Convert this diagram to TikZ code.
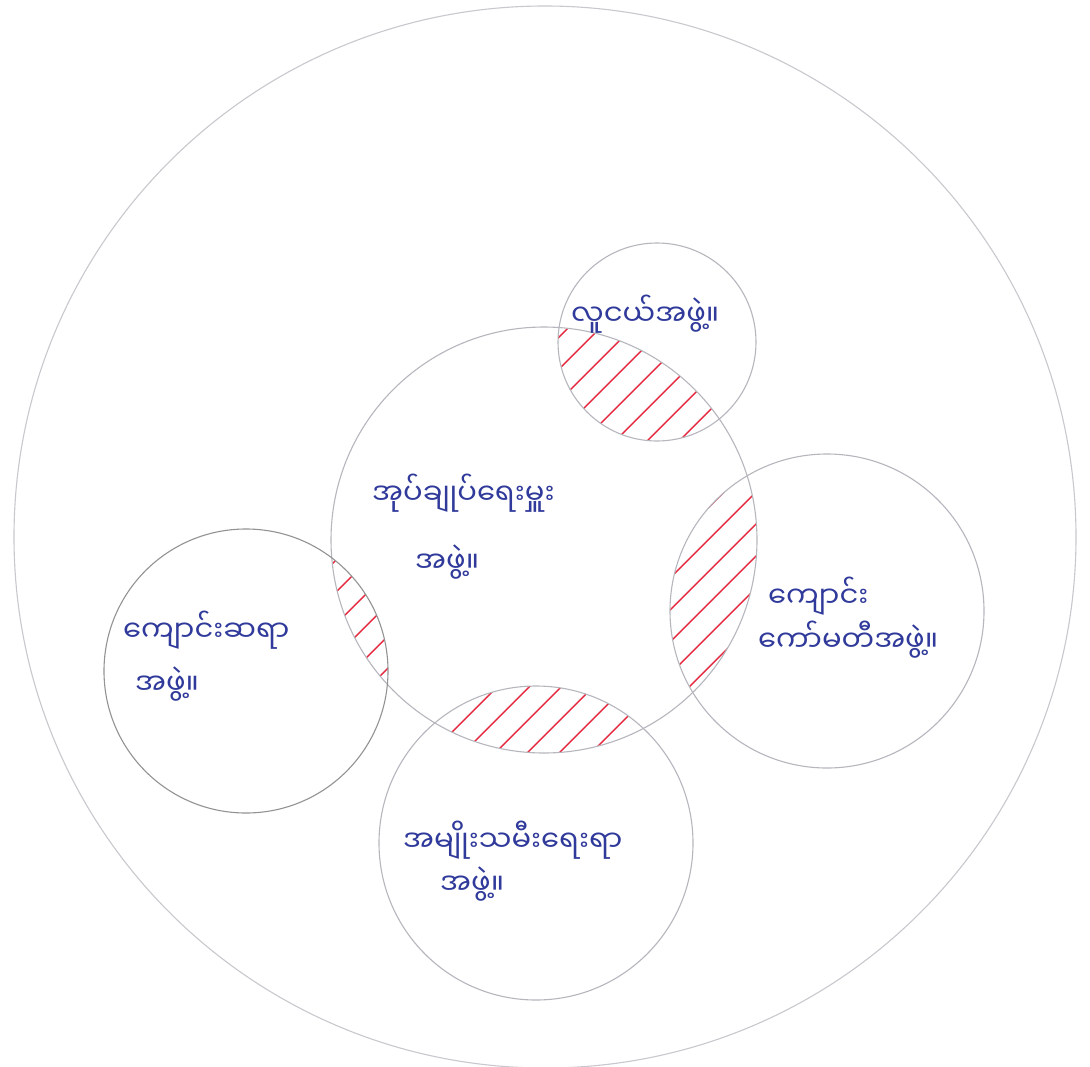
\documentclass[tikz,border=0pt]{standalone}
\usepackage{fontspec}
\newfontfamily\mmfont[Script=Myanmar]{Noto Sans Myanmar UI}
\definecolor{ink}{RGB}{48,58,155}
\definecolor{hatchred}{RGB}{228,40,62}
\definecolor{ringgray}{RGB}{182,182,190}
\tikzset{
  ring/.style={draw=ringgray, line width=1.1pt, circle, inner sep=0pt},
  hatchline/.style={draw=hatchred, line width=1.4pt},
  lbl/.style={anchor=west, inner sep=0pt, text=ink, font=\mmfont\fontsize{29}{34}\selectfont}
}
\begin{document}
\begin{tikzpicture}[x=1pt,y=-1pt]
\useasboundingbox (0,0) rectangle (1090,1066);
\fill[white] (0,0) rectangle (1090,1066);

% hatched intersections
\foreach \cx/\cy/\r in {657/342/99, 827/611/157, 246/671/142, 536/843/157}{
  \begin{scope}
    \clip (544,540) circle (213pt);
    \clip (\cx,\cy) circle (\r pt);
    \foreach \c in {0,32,...,2200}{
      \draw[hatchline] (\c,0) -- ++(-1100,1100);
    }
  \end{scope}
}

% circles
\node[ring, minimum size=1062pt, draw=ringgray!75] (outer) at (545,537) {};
\node[ring, minimum size=426pt] (center) at (544,540) {};
\node[ring, minimum size=198pt] (youth) at (657,342) {};
\node[ring, minimum size=314pt] (committee) at (827,611) {};
\node[ring, minimum size=284pt, draw=gray!85] (teachers) at (246,671) {};
\node[ring, minimum size=314pt] (women) at (536,843) {};

% labels
\node[lbl] (youthT) at (571,314) {လူငယ်အဖွဲ့။};
\node[lbl] (centerA) at (372,493) {အုပ်ချုပ်ရေးမှူး};
\node[lbl] (centerB) at (415,562) {အဖွဲ့။};
\node[lbl] (teachA) at (123,630) {ကျောင်းဆရာ};
\node[lbl] (teachB) at (135,684) {အဖွဲ့။};
\node[lbl] (commA) at (768,596) {ကျောင်း};
\node[lbl] (commB) at (758,640) {ကော်မတီအဖွဲ့။};
\node[lbl] (womenA) at (403,840) {အမျိုးသမီးရေးရာ};
\node[lbl] (womenB) at (440,884) {အဖွဲ့။};
\end{tikzpicture}
\end{document}
